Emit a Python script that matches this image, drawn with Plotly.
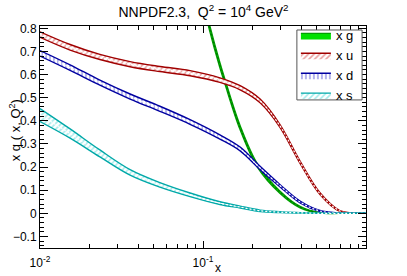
import plotly.graph_objects as go

# ---- data ----
x_grid = [0.01, 0.0153, 0.0233, 0.0357, 0.0544, 0.0833, 0.127, 0.169, 0.224,
          0.296, 0.394, 0.522, 0.69, 0.8, 1.0]
xu = [0.773, 0.718, 0.676, 0.645, 0.624, 0.606, 0.576, 0.543, 0.486,
      0.379, 0.221, 0.085, 0.010, 0.002, 0.0]
xu_err = [0.012, 0.012, 0.011, 0.011, 0.011, 0.011, 0.010, 0.009, 0.008,
          0.006, 0.005, 0.004, 0.002, 0.001, 0.0]
xd = [0.692, 0.630, 0.565, 0.505, 0.452, 0.395, 0.330, 0.278, 0.196,
      0.120, 0.049, 0.010, 0.001, 0.0, 0.0]
xd_err = [0.012, 0.012, 0.011, 0.011, 0.011, 0.010, 0.009, 0.008, 0.007,
          0.005, 0.004, 0.002, 0.001, 0.0, 0.0]
xs = [0.425, 0.345, 0.259, 0.177, 0.123, 0.080, 0.044, 0.027, 0.011,
      0.005, 0.002, 0.0, 0.0, 0.0, 0.0]
xs_err = [0.028, 0.020, 0.015, 0.012, 0.010, 0.008, 0.006, 0.004, 0.003,
          0.002, 0.001, 0.0, 0.0, 0.0, 0.0]
x_g = [0.105, 0.110, 0.127, 0.136, 0.169, 0.216, 0.296, 0.394, 0.522, 0.69, 1.0]
xg = [0.86, 0.80, 0.64, 0.572, 0.37, 0.206, 0.092, 0.027, 0.002, 0.0, 0.0]
xg_err = [0.012, 0.012, 0.011, 0.010, 0.009, 0.007, 0.005, 0.003, 0.001, 0.0, 0.0]

x_tickvals = [0.01, 0.1]
x_ticktext = ["10<sup>-2</sup>", "10<sup>-1</sup>"]

title_text = "NNPDF2.3,  Q<sup>2</sup> = 10<sup>4</sup> GeV<sup>2</sup>"
ytitle = "x q ( x, Q<sup>2</sup>)"
xtitle = "x"

FONT = "Liberation Sans, Arial, Helvetica, sans-serif"

fig = go.Figure()


def add_band(xv, c, e, name, edge, fill, pattern, center):
    lo = [a - b for a, b in zip(c, e)]
    hi = [a + b for a, b in zip(c, e)]
    fig.add_trace(go.Scatter(x=xv, y=lo, mode="lines",
                             line=dict(color=edge, width=1.4, shape="spline", smoothing=1.0),
                             showlegend=False, hoverinfo="skip"))
    fig.add_trace(go.Scatter(x=xv, y=hi, mode="lines",
                             line=dict(color=edge, width=1.4, shape="spline", smoothing=1.0),
                             fill="tonexty", fillcolor=fill, fillpattern=pattern,
                             name=name))
    fig.add_trace(go.Scatter(x=xv, y=c, mode="lines",
                             line=dict(color=center, width=1.2, dash="2px,2px",
                                       shape="spline", smoothing=1.0),
                             showlegend=False, hoverinfo="skip"))


add_band(x_g, xg, xg_err, "x g", "#00a000", "#00e000", None, "#007000")
add_band(x_grid, xu, xu_err, "x u", "#a00000", "rgba(255,255,255,0)",
         dict(shape="/", fgcolor="#d04040", bgcolor="white", size=4, solidity=0.4), "#ffffff")
add_band(x_grid, xd, xd_err, "x d", "#0000a0", "rgba(255,255,255,0)",
         dict(shape="|", fgcolor="#4040d0", bgcolor="white", size=4, solidity=0.4), "#ffffff")
add_band(x_grid, xs, xs_err, "x s", "#00a8a8", "rgba(255,255,255,0)",
         dict(shape="/", fgcolor="#50d8d8", bgcolor="white", size=4, solidity=0.4), "#ffffff")

fig.update_layout(
    width=407, height=276,
    margin=dict(l=40, r=41, t=26, b=28),
    paper_bgcolor="white", plot_bgcolor="white",
    font=dict(family=FONT, size=12, color="black"),
    title=dict(text=title_text, x=0.5, xanchor="center", y=0.955, yanchor="middle",
               font=dict(size=14)),
    showlegend=True,
    legend=dict(x=0.785, y=1.025, xanchor="left", yanchor="top",
                borderwidth=0, bgcolor="rgba(0,0,0,0)",
                font=dict(size=13), tracegroupgap=0, itemwidth=30,
                traceorder="normal"),
    shapes=[dict(type="rect", xref="paper", yref="paper",
                 x0=0.788, x1=0.988, y0=0.667, y1=0.982,
                 line=dict(color="#555555", width=1), fillcolor="white", layer="above")],
    annotations=[
        dict(text=xtitle, xref="paper", yref="paper", x=0.547, y=-0.088,
             xanchor="center", yanchor="middle", showarrow=False, font=dict(size=12)),
        dict(text=ytitle, xref="paper", yref="paper", x=-0.077, y=0.53,
             xanchor="center", yanchor="middle", textangle=-90, showarrow=False,
             font=dict(size=13)),
    ],
)

fig.update_xaxes(type="log", range=[-2, 0], tickvals=x_tickvals, ticktext=x_ticktext,
                 automargin=False, ticklabelstandoff=4,
                 showgrid=False, zeroline=False, showline=True, linecolor="black",
                 linewidth=1, mirror="allticks", ticks="inside", ticklen=7,
                 tickcolor="black",
                 minor=dict(ticks="inside", ticklen=4, dtick="D1", tickcolor="black",
                            showgrid=False),
                 tickfont=dict(size=12))
fig.update_yaxes(range=[-0.15, 0.81], dtick=0.1, tick0=0, automargin=False,
                 showgrid=False, zeroline=False,
                 showline=True, linecolor="black", linewidth=1, mirror="allticks",
                 ticks="inside", ticklen=8, tickcolor="black",
                 minor=dict(ticks="inside", ticklen=4, dtick=0.02, tickcolor="black",
                            showgrid=False),
                 tickfont=dict(size=12))

fig.write_html("out.html", config={"displayModeBar": False},
               post_script="document.body.style.margin='0';document.body.style.padding='0';")
